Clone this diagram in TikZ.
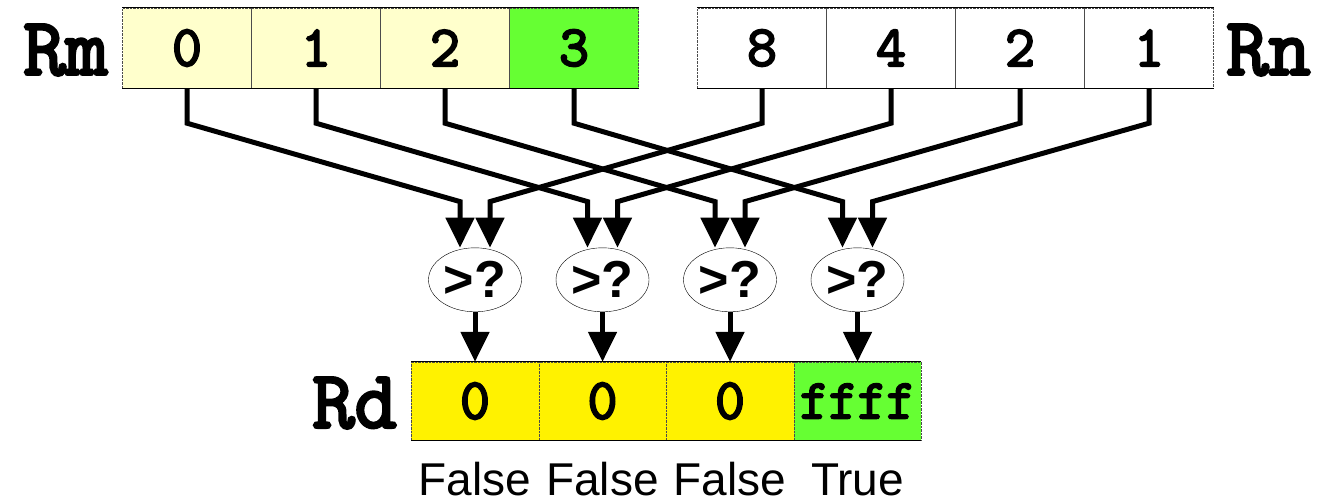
\documentclass[tikz,border=0pt]{standalone}
\usepackage{fontspec}
\setmainfont{Liberation Sans}
\newfontfamily\regfont[FakeBold=3.5]{Latin Modern Mono}
\usetikzlibrary{calc}
\usetikzlibrary{arrows.meta}
\usetikzlibrary{shapes.geometric}
\definecolor{paleyel}{HTML}{FFFFCC}
\definecolor{truegreen}{HTML}{66FF33}
\tikzset{
	cell/.style={minimum width=129pt, minimum height=80pt, inner sep=0pt, draw=black!70, densely dotted,
		font=\regfont\bfseries\fontsize{58}{60}\selectfont},
	regname/.style={inner sep=0pt, font=\regfont\bfseries\fontsize{82}{84}\selectfont},
	cmp/.style={ellipse, draw, thin, minimum width=93pt, minimum height=64pt, inner sep=0pt,
		font=\bfseries\fontsize{52}{54}\selectfont},
	wire/.style={line width=5pt, -{Triangle[length=30pt,width=28pt]}},
	lbl/.style={anchor=base, inner sep=0pt, font=\fontsize{46}{50}\selectfont},
}

\begin{document}
\begin{tikzpicture}[x=1pt,y=-1pt]
		\useasboundingbox (0,0) rectangle (1321,503);
		% source registers
		\foreach \v [count=\i from 0] in {0,1,2}
			\node[cell, fill=paleyel] (rm\i) at (187+129*\i,48) {\v};
		\node[cell, fill=truegreen] (rm3) at (574,48) {3};
		\foreach \v [count=\i from 0] in {8,4,2,1}
			\node[cell, fill=white] (rn\i) at (762+129*\i,48) {\v};
		\draw[thick] (rm0.north west) -- (rm3.north east) (rm0.south west) -- (rm3.south east);
		\draw[thick] (rn0.north west) -- (rn3.north east) (rn0.south west) -- (rn3.south east);
		\node[regname, anchor=east] (rmname) at (108,50) {Rm};
		\node[regname, anchor=west] (rnname) at (1226,50) {Rn};
		% destination register
		\foreach \i in {0,1,2}
			\node[cell, minimum width=127.5pt, minimum height=78pt, fill=yellow] (rd\i) at (475+127.5*\i,401) {0};
		\node[cell, minimum width=127.5pt, minimum height=78pt, fill=truegreen,
			font=\regfont\bfseries\fontsize{56}{58}\selectfont] (rd3) at (857.5,401) {ffff};
		\draw[thick] (rd0.north west) -- (rd3.north east) (rd0.south west) -- (rd3.south east);
		\node[regname, anchor=east] (rdname) at (397,403) {Rd};
		% compare lanes
		\foreach \i in {0,...,3} {
			\node[cmp] (cmp\i) at ($(rd\i.north)+(0,-82)$) {>?};
			\draw[wire] (rm\i.south) -- ++(0,35) -- ($(cmp\i.north)+(-15,-46)$) -- ($(cmp\i.north)+(-15,0)$);
			\draw[wire] (rn\i.south) -- ++(0,35) -- ($(cmp\i.north)+(15,-46)$) -- ($(cmp\i.north)+(15,0)$);
			\draw[wire] (cmp\i.south) -- (rd\i.north);
		}
		\foreach \t [count=\i from 0] in {False,False,False,True}
			\node[lbl] (res\i) at ($(rd\i.south)+(0,55)$) {\t};
	\end{tikzpicture}
\end{document}
